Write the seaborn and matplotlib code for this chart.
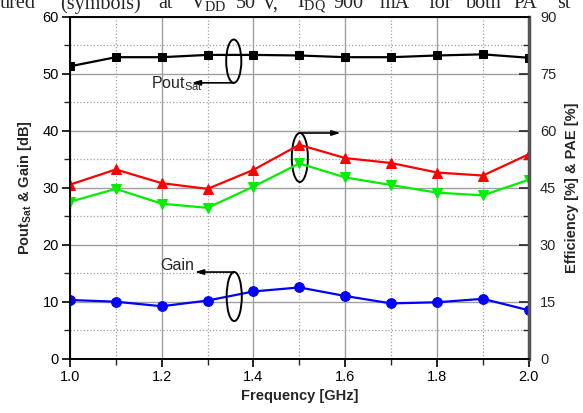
import matplotlib
matplotlib.use("Agg")
import matplotlib.pyplot as plt
import seaborn as sns
import pandas as pd
import numpy as np
from matplotlib.patches import Ellipse
from matplotlib.ticker import MultipleLocator

freq = [1.0, 1.1, 1.2, 1.3, 1.4, 1.5, 1.6, 1.7, 1.8, 1.9, 2.0]
pout_sat = [51.3, 52.9, 52.9, 53.3, 53.3, 53.2, 52.9, 52.9, 53.2, 53.4, 52.8]
gain = [10.3, 10.0, 9.2, 10.2, 11.8, 12.5, 11.0, 9.7, 9.9, 10.5, 8.5]
efficiency = [45.8, 49.8, 46.2, 44.7, 49.7, 56.3, 52.8, 51.5, 49.0, 48.2, 53.8]
pae = [41.3, 44.7, 40.8, 39.7, 45.3, 51.4, 47.7, 45.7, 43.7, 43.0, 47.1]

header_words = ["ured", "(symbols)", "at", r"V$_{\mathregular{DD}}$", "50", "V,",
                r"I$_{\mathregular{DQ}}$", "900", "mA", "for", "both", "PA", "st"]
header_x_px = [0, 60, 158, 190, 236, 262, 297, 333, 380, 428, 466, 513, 557]

sns.set_style("white")
plt.rcParams['font.family'] = ['Liberation Sans', 'DejaVu Sans']

fig = plt.figure(figsize=(5.83, 4.13), dpi=100)
ax = fig.add_axes([0.120, 0.1315, 0.787, 0.828])
ax2 = ax.twinx()

df_l = pd.DataFrame({"freq": freq, "pout": pout_sat, "gain": gain})
df_r = pd.DataFrame({"freq": freq, "eff": efficiency, "pae": pae})

lw = 1.6
sns.lineplot(data=df_l, x="freq", y="pout", ax=ax, color="black", marker="s",
             markersize=6, markeredgecolor="black", linewidth=lw)
sns.lineplot(data=df_l, x="freq", y="gain", ax=ax, color="#0000ff", marker="o",
             markersize=7, markeredgecolor="#0000ff", linewidth=lw)
sns.lineplot(data=df_r, x="freq", y="eff", ax=ax2, color="#ff0000", marker="^",
             markersize=7, markeredgecolor="#ff0000", linewidth=lw)
sns.lineplot(data=df_r, x="freq", y="pae", ax=ax2, color="#00ee00", marker="v",
             markersize=7, markeredgecolor="#00ee00", linewidth=lw)

ax.set_xlim(1.0, 2.0)
ax.set_ylim(0, 60)
ax2.set_ylim(0, 90)
ax.xaxis.set_major_locator(MultipleLocator(0.2))
ax.xaxis.set_minor_locator(MultipleLocator(0.1))
ax.yaxis.set_major_locator(MultipleLocator(10))
ax.yaxis.set_minor_locator(MultipleLocator(5))
ax2.yaxis.set_major_locator(MultipleLocator(15))
ax2.yaxis.set_minor_locator(MultipleLocator(7.5))
ax.set_xticks(freq[::2])
ax.set_xticklabels([f"{v:.1f}" for v in freq[::2]])

ax.grid(True, which="major", color="#a0a0a0", linestyle="-", linewidth=1.0)
ax.grid(True, which="minor", color="#a0a0a0", linestyle=":", linewidth=0.9)
ax.set_axisbelow(True)
ax2.grid(False)

for a in (ax, ax2):
    for s in a.spines.values():
        s.set_color("black")
        s.set_linewidth(1.2)
ax2.spines["right"].set_color("#555555")
ax2.spines["right"].set_linewidth(2.5)

ax.tick_params(axis="both", which="major", direction="out", length=6, width=1.2,
               labelsize=10.5, colors="black", pad=2)
ax.tick_params(axis="both", which="minor", direction="out", length=4, width=1.0)
ax.tick_params(axis="x", which="both", bottom=True, top=False)
ax.tick_params(axis="y", which="both", left=True, right=False)
ax2.tick_params(axis="y", which="major", direction="in", length=7, width=1.2,
                labelsize=10.5, pad=8)
ax2.tick_params(axis="y", which="minor", direction="in", length=4, width=1.0)

ax.set_xlabel("Frequency [GHz]", fontsize=10.5, fontweight="bold", labelpad=4)
ax.set_ylabel(r"Pout$_{\mathregular{Sat}}$ & Gain [dB]", fontsize=10.5,
              fontweight="bold", labelpad=6)
ax2.set_ylabel("Efficiency [%] & PAE [%]", fontsize=10.5, fontweight="bold",
               labelpad=6)

# annotations: ellipses and arrows
for (cx, cy, w, h) in [(1.357, 52.2, 0.033, 7.6), (1.358, 10.9, 0.033, 8.6)]:
    ax.add_patch(Ellipse((cx, cy), w, h, fill=False, edgecolor="black",
                         linewidth=1.4, zorder=5))
ax.add_patch(Ellipse((1.501, 35.3), 0.035, 8.6, fill=False, edgecolor="black",
                     linewidth=1.4, zorder=5))

arrow = dict(arrowstyle="-|>,head_length=0.5,head_width=0.15", color="black",
             linewidth=1.2, shrinkA=0, shrinkB=0)
ax.annotate("", xy=(1.265, 48.4), xytext=(1.357, 48.4), arrowprops=arrow, zorder=6)
ax.annotate("", xy=(1.272, 15.2), xytext=(1.358, 15.2), arrowprops=arrow, zorder=6)
ax.annotate("", xy=(1.59, 39.6), xytext=(1.501, 39.6), arrowprops=arrow, zorder=6)

ax.text(1.29, 48.2, r"Pout$_{\mathregular{Sat}}$", fontsize=11.5, ha="right",
        va="center", zorder=6)
ax.text(1.27, 16.4, "Gain", fontsize=11.5, ha="right", va="center", zorder=6)

W = 583.0
for word, xp in zip(header_words, header_x_px):
    fig.text(xp / W, 1 - 8.5 / 413, word, ha="left", va="baseline", fontsize=14.5,
             family=["Liberation Serif", "DejaVu Serif"])

fig.savefig("out.png", dpi=100)
